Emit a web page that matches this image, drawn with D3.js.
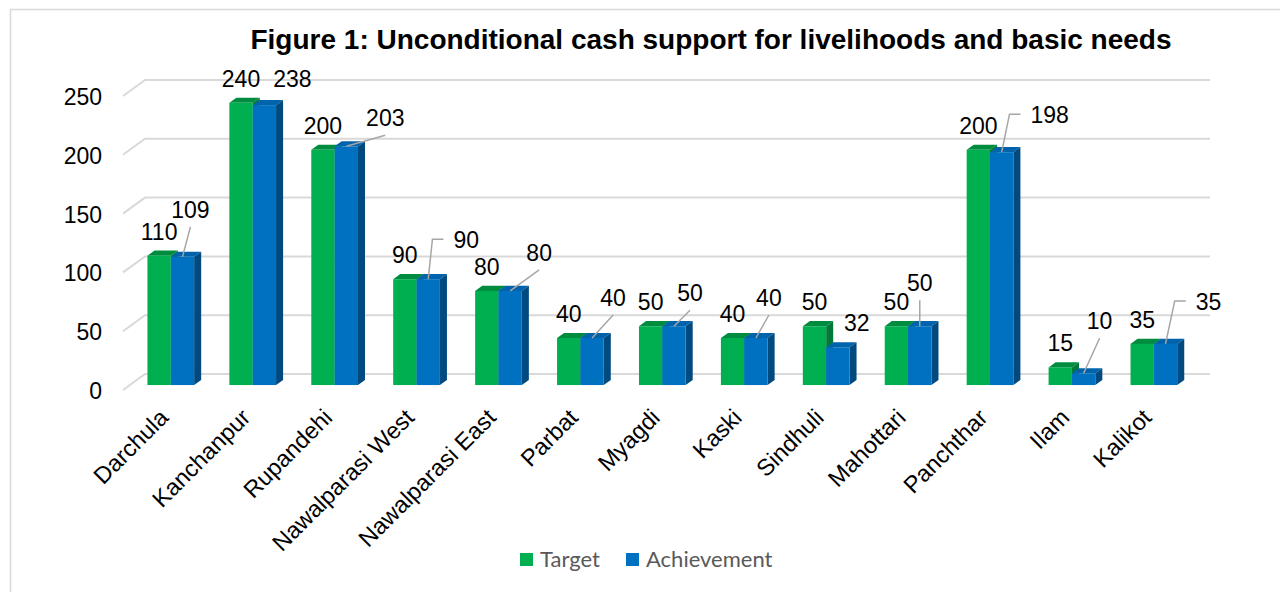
<!DOCTYPE html>
<html>
<head>
<meta charset="utf-8">
<script src="https://cdn.jsdelivr.net/npm/d3@7"></script>
<style>
  html, body { margin: 0; padding: 0; background: #fff; }
  svg { display: block; }
</style>
</head>
<body>
<svg id="chart" width="1280" height="592"></svg>
<script>
const categories = ["Darchula","Kanchanpur","Rupandehi","Nawalparasi West","Nawalparasi East","Parbat","Myagdi","Kaski","Sindhuli","Mahottari","Panchthar","Ilam","Kalikot"];
const target      = [110,240,200,90,80,40,50,40,50,50,200,15,35];
const achievement = [109,238,203,90,80,40,50,40,32,50,198,10,35];
const yTicks = [0,50,100,150,200,250];
const seriesNames = ["Target","Achievement"];
const title = "Figure 1: Unconditional cash support for livelihoods and basic needs";

// layout of the achievement data labels (offset from bar top, leader type)
const achLabelLayout = [
  [8,-47,"line"],[28,-26,"none"],[39,-28,"line"],[38,-39,"elbow"],[29,-38,"line"],
  [21,-40,"line"],[16,-33,"line"],[13,-40,"line"],[19,-24,"none"],[0,-43,"line"],
  [48,-37,"elbow"],[16,-52,"line"],[43,-42,"elbow"]
];

const svg = d3.select("#chart");
const font = "'Liberation Sans', Arial, sans-serif";
const colors = {
  Target: {front:"#00B050", top:"#008C3F", side:"#007A36"},
  Achievement: {front:"#0070C0", top:"#0063AC", side:"#004A80"}
};

// chart border
svg.append("rect").attr("x",10.5).attr("y",9.5).attr("width",1300).attr("height",600)
  .attr("fill","none").attr("stroke","#d9d9d9").attr("stroke-width",1.5);

const x = d3.scaleBand().domain(categories).range([123, 1188]);
const y = d3.scaleLinear().domain([0,250]).range([390, 96]);
const DX = 22, DY = -16;           // full depth offset of the 3D box
const off = d => [DX*d, DY*d];

// gridlines: floor slant + back wall
const grid = svg.append("g");
yTicks.forEach(v => {
  const [bx, by] = off(1);
  grid.append("path")
    .attr("d", `M${x.range()[0]},${y(v)} L${x.range()[0]+bx},${y(v)+by} L${x.range()[1]+bx},${y(v)+by}`)
    .attr("fill","none").attr("stroke","#d9d9d9").attr("stroke-width",2);
});

// y axis labels
svg.append("g").selectAll("text").data(yTicks).join("text")
  .attr("x",102).attr("y",v => y(v)+9)
  .attr("text-anchor","end").attr("font-family",font).attr("font-size",23).attr("fill","#000")
  .text(v => v);

// bars
const barD = 0.31, barDepth = 0.32;
const [fx, fy] = off(barD);
const [sx, sy] = off(barDepth);
const bw = x.bandwidth()*0.285;
const series = [target, achievement];
const barsG = svg.append("g");
function barGeom(i, s) {
  const cx = x(categories[i]) + x.bandwidth()/2 + fx;
  const x0 = cx - bw + s*bw;
  const v = series[s][i];
  const yTop = y(v) + fy, yBot = y(0) + fy;
  return {x0, x1: x0+bw, yTop, yBot, cx: x0+bw/2};
}
categories.forEach((c, i) => {
  [0,1].forEach(s => {
    const g = barGeom(i, s);
    const col = colors[seriesNames[s]];
    const grp = barsG.append("g");
    grp.append("path").attr("fill",col.top)
      .attr("d",`M${g.x0},${g.yTop} L${g.x0+sx},${g.yTop+sy} L${g.x1+sx},${g.yTop+sy} L${g.x1},${g.yTop}Z`);
    grp.append("path").attr("fill",col.side)
      .attr("d",`M${g.x1},${g.yTop} L${g.x1+sx},${g.yTop+sy} L${g.x1+sx},${g.yBot+sy} L${g.x1},${g.yBot}Z`);
    grp.append("rect").attr("fill",col.front)
      .attr("x",g.x0).attr("y",g.yTop).attr("width",bw).attr("height",g.yBot-g.yTop);
  });
});

// data labels
const labG = svg.append("g").attr("font-family",font).attr("font-size",23).attr("fill","#000");
categories.forEach((c, i) => {
  const gT = barGeom(i, 0);
  labG.append("text").attr("x",gT.cx).attr("y",gT.yTop-16).attr("text-anchor","middle").text(target[i]);
  const gA = barGeom(i, 1);
  const [dx, dy, type] = achLabelLayout[i];
  const lx = gA.cx + dx, ly = gA.yTop + dy;
  const t = labG.append("text").attr("x",lx).attr("y",ly+8).attr("text-anchor","middle").text(achievement[i]);
  const halfW = t.node().getComputedTextLength()/2;
  if (type === "line") {
    svg.append("line").attr("x1",lx).attr("y1",ly+17).attr("x2",gA.cx).attr("y2",gA.yTop)
      .attr("stroke","#a6a6a6").attr("stroke-width",1.5);
  } else if (type === "elbow") {
    const sx0 = lx - halfW - 10;
    svg.append("path").attr("d",`M${sx0},${ly-1} L${sx0-11},${ly-1} L${gA.cx},${gA.yTop}`)
      .attr("fill","none").attr("stroke","#a6a6a6").attr("stroke-width",1.5);
  }
});

// category labels
svg.append("g").selectAll("text").data(categories).join("text")
  .attr("transform", c => `translate(${x(c)+x.bandwidth()/2+fx-1},419) rotate(-45)`)
  .attr("text-anchor","end").attr("font-family",font).attr("font-size",23.5).attr("fill","#000")
  .text(c => c);

// title
svg.append("text").attr("x",711).attr("y",49).attr("text-anchor","middle")
  .attr("font-family",font).attr("font-size",28).attr("font-weight","bold").attr("fill","#000")
  .text(title);

// legend
const legend = svg.append("g");
const legendItems = [{name:"Target", x:520},{name:"Achievement", x:626}];
legendItems.forEach(it => {
  legend.append("rect").attr("x",it.x).attr("y",553).attr("width",13).attr("height",13)
    .attr("fill",colors[it.name].front);
  legend.append("text").attr("x",it.x+20).attr("y",567)
    .attr("font-family","Lato, 'Open Sans', sans-serif").attr("font-size",22).attr("fill","#595959")
    .text(it.name);
});
</script>
</body>
</html>
